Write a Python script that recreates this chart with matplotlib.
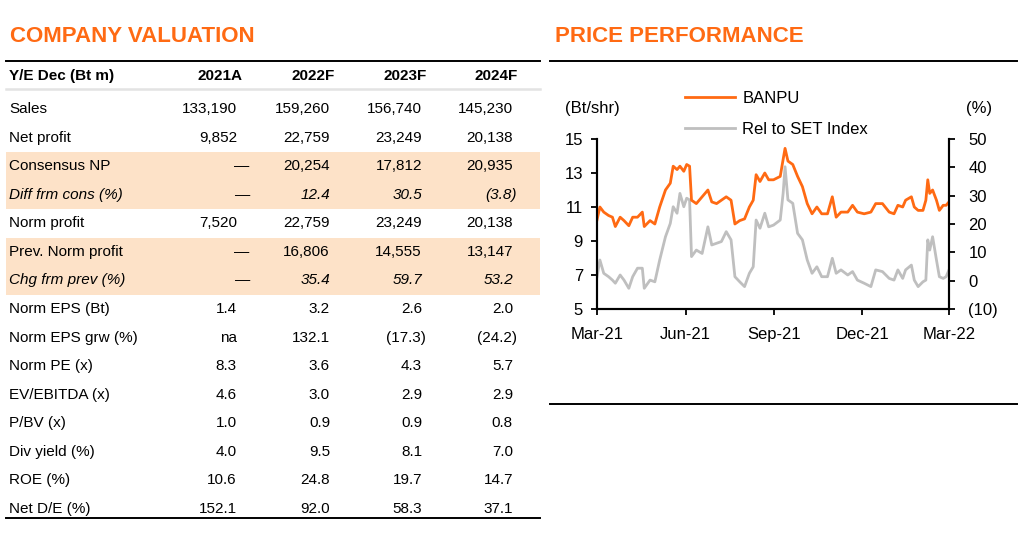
import matplotlib.pyplot as plt
import matplotlib.dates as mdates
import numpy as np
import pandas as pd

plt.rcParams['font.family'] = ['Liberation Sans', 'DejaVu Sans']

# ---- table data ----
years = ['2021A', '2022F', '2023F', '2024F']
row_labels = ['Sales', 'Net profit', 'Consensus NP', 'Diff frm cons (%)', 'Norm profit',
              'Prev. Norm profit', 'Chg frm prev (%)', 'Norm EPS (Bt)', 'Norm EPS grw (%)',
              'Norm PE (x)', 'EV/EBITDA (x)', 'P/BV (x)', 'Div yield (%)', 'ROE (%)', 'Net D/E (%)']
row_values = [
    ['133,190', '159,260', '156,740', '145,230'],
    ['9,852', '22,759', '23,249', '20,138'],
    ['\u2014', '20,254', '17,812', '20,935'],
    ['\u2014', '12.4', '30.5', '(3.8)'],
    ['7,520', '22,759', '23,249', '20,138'],
    ['\u2014', '16,806', '14,555', '13,147'],
    ['\u2014', '35.4', '59.7', '53.2'],
    ['1.4', '3.2', '2.6', '2.0'],
    ['na', '132.1', '(17.3)', '(24.2)'],
    ['8.3', '3.6', '4.3', '5.7'],
    ['4.6', '3.0', '2.9', '2.9'],
    ['1.0', '0.9', '0.9', '0.8'],
    ['4.0', '9.5', '8.1', '7.0'],
    ['10.6', '24.8', '19.7', '14.7'],
    ['152.1', '92.0', '58.3', '37.1'],
]
shaded_rows = [2, 3, 5, 6]
italic_rows = [3, 6]

# ---- price performance data ----
dates = pd.to_datetime([
    '2021-03-01', '2021-03-04', '2021-03-08', '2021-03-13', '2021-03-17', '2021-03-20',
    '2021-03-25', '2021-03-29', '2021-04-03', '2021-04-07', '2021-04-12', '2021-04-17',
    '2021-04-19', '2021-04-25', '2021-04-30', '2021-05-05', '2021-05-11', '2021-05-16',
    '2021-05-19', '2021-05-23', '2021-05-26', '2021-05-30', '2021-06-02', '2021-06-05',
    '2021-06-07', '2021-06-12', '2021-06-18', '2021-06-24', '2021-06-28', '2021-07-03',
    '2021-07-08', '2021-07-13', '2021-07-18', '2021-07-22', '2021-07-27', '2021-08-01',
    '2021-08-06', '2021-08-10', '2021-08-13', '2021-08-17', '2021-08-22', '2021-08-26',
    '2021-08-31', '2021-09-07', '2021-09-10', '2021-09-12', '2021-09-15', '2021-09-20',
    '2021-09-25', '2021-09-30', '2021-10-05', '2021-10-10', '2021-10-15', '2021-10-20',
    '2021-10-26', '2021-10-31', '2021-11-04', '2021-11-09', '2021-11-16', '2021-11-21',
    '2021-11-26', '2021-12-03', '2021-12-10', '2021-12-15', '2021-12-22', '2021-12-29',
    '2022-01-03', '2022-01-07', '2022-01-12', '2022-01-15', '2022-01-21', '2022-01-24',
    '2022-01-28', '2022-02-02', '2022-02-05', '2022-02-07', '2022-02-09', '2022-02-12',
    '2022-02-16', '2022-02-19', '2022-02-23', '2022-02-26', '2022-03-01'])
banpu = [10.24, 11.0, 10.7, 10.5, 10.4, 9.85, 10.4, 10.2, 9.9, 10.4, 10.4, 10.7,
         9.85, 10.2, 10.0, 11.0, 12.0, 12.4, 13.4, 13.2, 13.4, 13.1, 13.5, 13.4,
         11.4, 11.2, 11.6, 12.0, 11.3, 11.2, 11.4, 11.6, 11.4, 10.0, 10.2, 10.3,
         11.0, 11.4, 12.9, 12.5, 13.0, 12.6, 12.6, 12.8, 13.8, 14.45, 13.7, 13.5,
         12.8, 12.2, 11.2, 10.6, 11.0, 10.6, 10.6, 11.6, 10.4, 10.7, 10.7, 11.1,
         10.7, 10.6, 10.7, 11.2, 11.2, 10.7, 10.6, 11.1, 11.0, 11.4, 11.6, 11.0,
         10.8, 10.8, 11.4, 12.6, 11.8, 12.0, 11.4, 10.8, 11.1, 11.1, 11.3]
rel_set = [1.4, 7.3, 2.6, 1.4, 0.2, -0.9, 2.0, 0.2, -2.7, 1.4, 4.4, 4.4,
           -2.7, 0.2, -0.4, 7.3, 15.5, 20.2, 26.1, 23.8, 30.8, 26.1, 29.1, 28.5,
           8.5, 10.8, 9.6, 19.0, 12.6, 13.2, 13.8, 17.3, 14.4, 1.4, -0.4, -2.1,
           2.6, 4.9, 21.4, 18.5, 23.8, 19.0, 19.6, 21.4, 30.8, 40.2, 28.5, 27.3,
           16.7, 14.4, 7.3, 2.6, 4.9, 1.4, 1.4, 7.9, 2.6, 3.8, 2.0, 3.2,
           0.2, -0.9, -2.1, 3.8, 3.2, 0.8, 0.2, 3.8, 0.8, 3.8, 5.5, 0.2,
           -2.1, -0.4, 0.2, 14.4, 10.8, 15.5, 7.3, 1.4, 0.8, 1.4, 3.8]
x_ticks = pd.to_datetime(['2021-03-01', '2021-06-01', '2021-09-01', '2021-12-01', '2022-03-01'])

W, H = 1024, 541
ORANGE = '#FF6A13'
SHADE = '#FDE2C8'

fig = plt.figure(figsize=(W / 100, H / 100), dpi=100)


def fx(px):
    return px / W


def fy(py):
    return 1 - py / H


def hline(x0, x1, y, color='black', lw=1.2):
    fig.add_artist(plt.Line2D([fx(x0), fx(x1)], [fy(y), fy(y)], color=color, lw=lw))


# ---- COMPANY VALUATION table ----
fig.text(fx(10), fy(37), 'COMPANY VALUATION', color=ORANGE, fontsize=16,
         fontweight='bold', va='center', ha='left')
hline(6, 540, 60.5, lw=1.4)
hline(6, 540, 88.5, color='#E3E3E3', lw=1.8)

row_y0, row_step = 109, 28.57
col_right = [237, 330, 422, 513]

for r in shaded_rows:
    yc = row_y0 + r * row_step
    fig.add_artist(plt.Rectangle((fx(6), fy(yc + row_step / 2)), fx(534), row_step / H,
                                 facecolor=SHADE, edgecolor='none', zorder=0))

fig.text(fx(9), fy(76), 'Y/E Dec (Bt m)', fontsize=11, fontweight='bold', va='center')
for c, yr in enumerate(years):
    fig.text(fx(col_right[c] + 5), fy(76), yr, fontsize=11, fontweight='bold',
             va='center', ha='right')

for r, (lab, vals) in enumerate(zip(row_labels, row_values)):
    yc = row_y0 + r * row_step
    style = 'italic' if r in italic_rows else 'normal'
    fig.text(fx(9), fy(yc), lab, fontsize=11, style=style, va='center')
    for c, v in enumerate(vals):
        xr = col_right[c]
        if v.endswith(')'):
            xr += 4
        elif v == '\u2014':
            xr += 12
        fig.text(fx(xr), fy(yc), v, fontsize=11, style=style, va='center', ha='right')

hline(6, 540, 518, lw=1.4)

# ---- PRICE PERFORMANCE chart ----
fig.text(fx(555), fy(37), 'PRICE PERFORMANCE', color=ORANGE, fontsize=16,
         fontweight='bold', va='center', ha='left')
hline(550, 1017, 60.5, lw=1.4)
hline(550, 1017, 404, lw=1.4)

ax = fig.add_axes([fx(597), fy(309), fx(949) - fx(597), (309 - 139) / H])
ax2 = ax.twinx()
l2, = ax2.plot(dates, rel_set, color='#BFBFBF', lw=2.0, label='Rel to SET Index')
l1, = ax.plot(dates, banpu, color=ORANGE, lw=2.0, label='BANPU')
ax.set_zorder(ax2.get_zorder() + 1)
ax.patch.set_visible(False)

ax.set_xlim(x_ticks[0], x_ticks[-1])
ax.set_ylim(5, 15)
ax.set_yticks(np.arange(5, 16, 2))
ax2.set_ylim(-10, 50)
ax2.set_yticks(np.arange(-10, 51, 10))
ax2.set_yticklabels(['(10)' if t < 0 else str(t) for t in range(-10, 51, 10)])
ax.set_xticks(x_ticks)
ax.xaxis.set_major_formatter(mdates.DateFormatter('%b-%y'))

for a in (ax, ax2):
    a.spines['top'].set_visible(False)
    for s in ('left', 'right', 'bottom'):
        a.spines[s].set_linewidth(1.5)
    a.tick_params(labelsize=12, length=4, width=1.3, direction='out')
ax.tick_params(axis='y', pad=6)
ax.tick_params(axis='x', pad=9)
ax2.tick_params(axis='y', pad=10)

fig.text(fx(565), fy(109), '(Bt/shr)', fontsize=12, va='center', ha='left')
fig.text(fx(966), fy(109), '(%)', fontsize=12, va='center', ha='left')

fig.legend([l1, l2], ['BANPU', 'Rel to SET Index'], loc='upper left',
           bbox_to_anchor=(fx(685), fy(91)), frameon=False, fontsize=12,
           handlelength=3.0, handletextpad=0.45, labelspacing=0.95,
           borderaxespad=0, borderpad=0)

fig.savefig('out.png', dpi=100)
